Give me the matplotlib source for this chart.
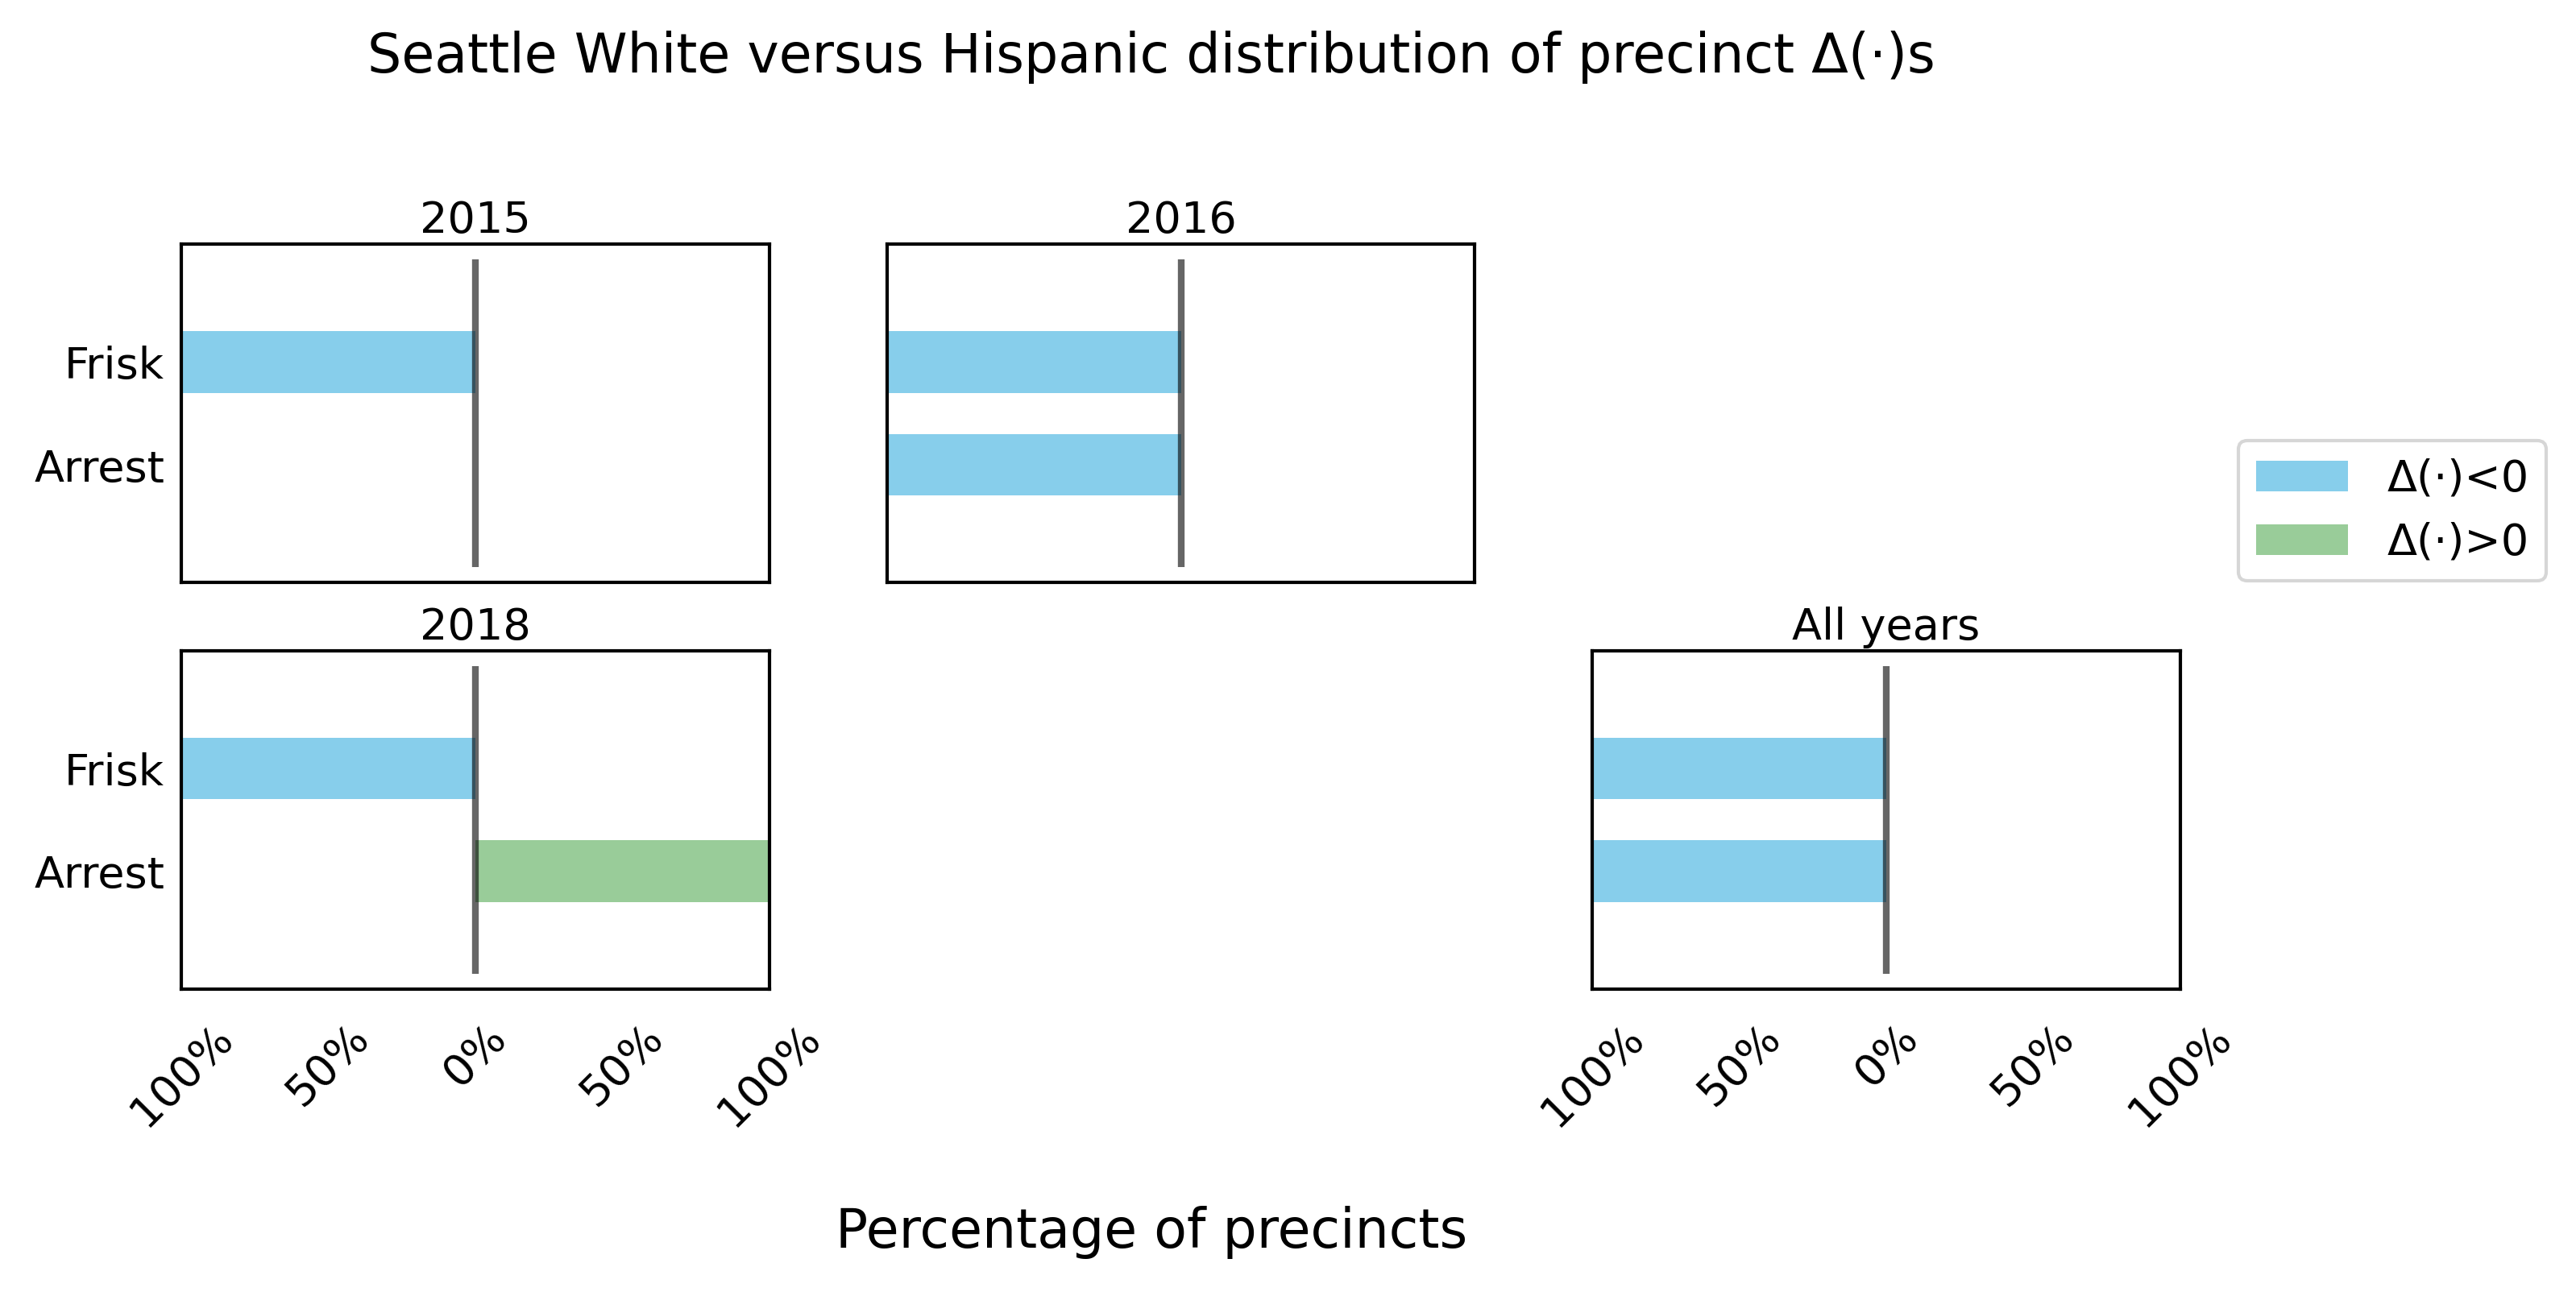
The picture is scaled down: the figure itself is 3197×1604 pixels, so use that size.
import matplotlib
matplotlib.use("Agg")
import matplotlib.pyplot as plt
from matplotlib.patches import Patch

# ---- data ----
panels = ["2015", "2016", "2018", "All years"]
panel_cells = [(0, 0), (0, 1), (1, 0), (1, 2)]
categories = ["Arrest", "Frisk"]          # bottom to top
# share of precincts with Delta<0 / Delta>0, per panel, order = categories
neg_share = {
    "2015": [0.0, 1.0],
    "2016": [1.0, 1.0],
    "2018": [0.0, 1.0],
    "All years": [1.0, 1.0],
}
pos_share = {
    "2015": [0.0, 0.0],
    "2016": [0.0, 0.0],
    "2018": [1.0, 0.0],
    "All years": [0.0, 0.0],
}
xticks = [-1.0, -0.5, 0.0, 0.5, 1.0]
xticklabels = ["100%", "50%", "0%", "50%", "100%"]
legend_labels = ["\u0394(\u00b7)<0", "\u0394(\u00b7)>0"]

NEG_COLOR = "skyblue"
POS_COLOR = "green"
POS_ALPHA = 0.4
FS = 19.5

fig, axes = plt.subplots(2, 3, figsize=(15.985, 8.02), dpi=200)
fig.subplots_adjust(left=0.0704, right=0.8464, top=0.8111, bottom=0.2344,
                    wspace=0.2, hspace=0.2)

used = set()
for name, (r, c) in zip(panels, panel_cells):
    ax = axes[r, c]
    used.add((r, c))
    ypos = list(range(len(categories)))
    neg = [-v for v in neg_share[name]]
    pos = pos_share[name]
    ax.barh(ypos, neg, height=0.6, color=NEG_COLOR)
    ax.barh(ypos, pos, height=0.6, color=POS_COLOR, alpha=POS_ALPHA)
    ax.vlines(0, -1, 2, color="black", alpha=0.6, linewidth=3.0, zorder=3)
    ax.set_xlim(-1, 1)
    ax.set_title(name, fontsize=FS, pad=5)
    for s in ax.spines.values():
        s.set_linewidth(1.5)
        s.set_color("black")
    ax.tick_params(length=0, labelsize=FS, pad=7.5)
    if c == 0:
        ax.set_yticks(ypos)
        ax.set_yticklabels(categories)
    else:
        ax.set_yticks([])
    if r == 1:
        ax.set_xticks(xticks)
        ax.set_xticklabels(xticklabels, rotation=45, ha="center")
        ax.tick_params(axis="x", pad=12)
    else:
        ax.set_xticks([])

for r in range(2):
    for c in range(3):
        if (r, c) not in used:
            axes[r, c].remove()

fig.suptitle("Seattle White versus Hispanic distribution of precinct \u0394(\u00b7)s",
             x=0.447, y=0.956, va="center", fontsize=24)
fig.text(0.447, 0.046, "Percentage of precincts", ha="center", va="center",
         fontsize=24)

handles = [Patch(facecolor=NEG_COLOR),
           Patch(facecolor=POS_COLOR, alpha=POS_ALPHA)]
leg = fig.legend(handles, legend_labels, loc="center left",
                 bbox_to_anchor=(0.869, 0.6047), borderaxespad=0,
                 fontsize=FS, frameon=True, handletextpad=0.9,
                 handlelength=2.1)
leg.get_frame().set_linewidth(1.5)
leg.get_frame().set_edgecolor("0.8")

fig.savefig("out.png", dpi=200)
